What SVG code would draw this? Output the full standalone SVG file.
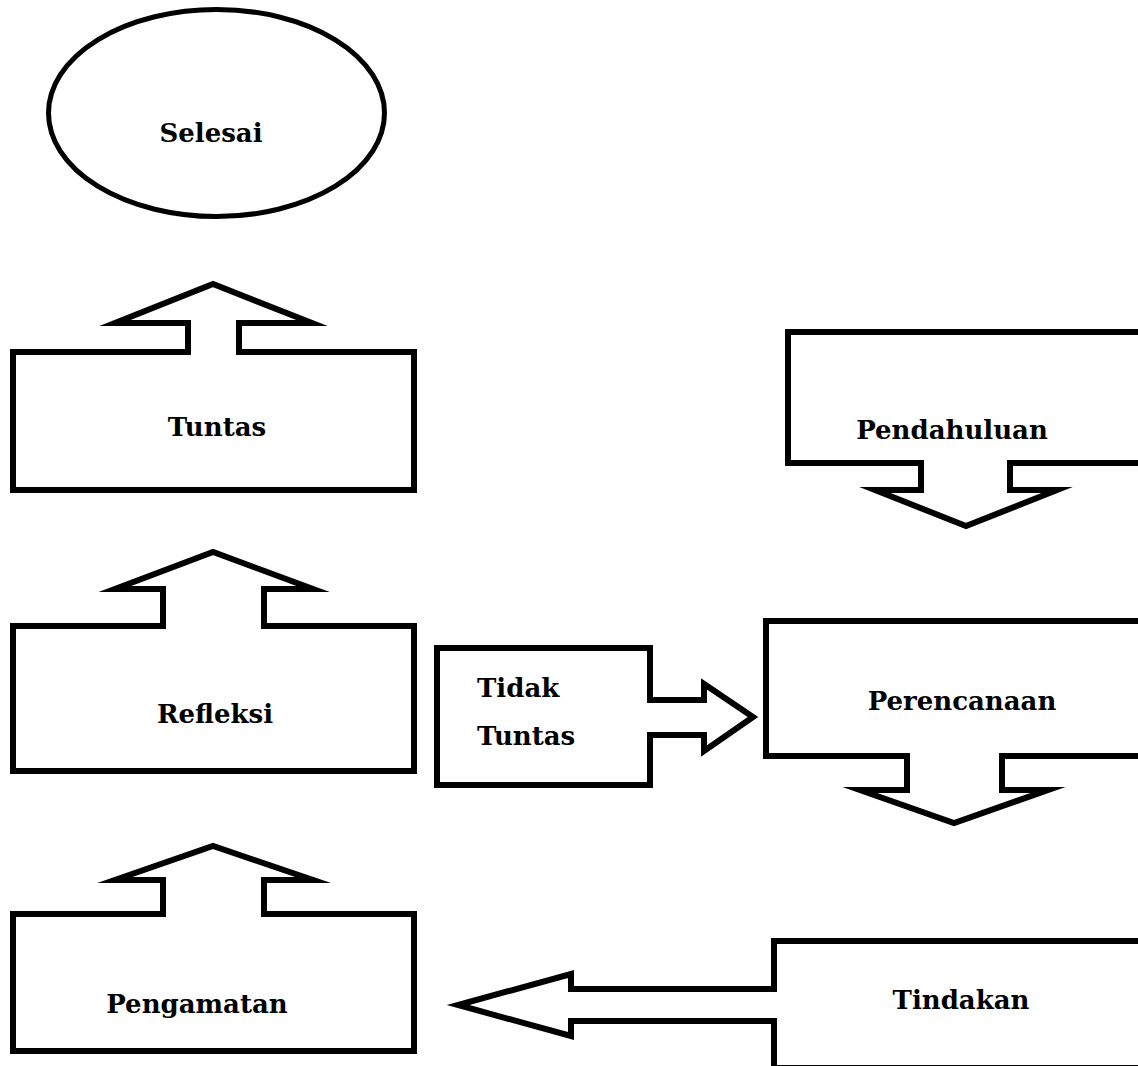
<svg xmlns="http://www.w3.org/2000/svg" width="1138" height="1066" viewBox="0 0 1138 1066">
<style>
.s{fill:#fff;stroke:#000;stroke-width:6;stroke-linejoin:miter;stroke-miterlimit:10}
.e{fill:#fff;stroke:#000;stroke-width:5}
.t{font-family:"DejaVu Serif","Liberation Serif",serif;font-weight:bold;font-size:26px;fill:#000}
.c{text-anchor:middle}
</style>
<rect width="1138" height="1066" fill="#fff"/>
<g id="selesai">
<ellipse class="e" cx="216.5" cy="113" rx="168" ry="103.5"/>
<text class="t c" x="211" y="142">Selesai</text>
</g>
<g id="tuntas">
<path class="s" d="M13,352 H188 V323 H115 L213,284 L312,323 H239 V352 H414 V490 H13 Z"/>
<text class="t c" x="217" y="436">Tuntas</text>
</g>
<g id="refleksi">
<path class="s" d="M13,626 H163 V589 H115 L213,552 L313,589 H264 V626 H414 V771 H13 Z"/>
<text class="t c" x="215" y="723">Refleksi</text>
</g>
<g id="pengamatan">
<path class="s" d="M13,914 H163 V880 H115 L213,846 L313,880 H264 V914 H414 V1051 H13 Z"/>
<text class="t c" x="197" y="1013">Pengamatan</text>
</g>
<g id="pendahuluan">
<path class="s" d="M788,332 H1150 V463 H1010 V490 H1057 L966,526 L875,490 H921 V463 H788 Z"/>
<text class="t c" x="952" y="439">Pendahuluan</text>
</g>
<g id="perencanaan">
<path class="s" d="M766,621 H1150 V756 H1002 V790 H1048 L954,823 L860,790 H907 V756 H766 Z"/>
<text class="t c" x="962" y="710">Perencanaan</text>
</g>
<g id="tidak-tuntas">
<path class="s" d="M437,648 H650 V700 H704 V684 L753,717 L704,751 V735 H650 V785 H437 Z"/>
<text class="t" x="477" y="697">Tidak</text>
<text class="t" x="477" y="745">Tuntas</text>
</g>
<g id="tindakan">
<path class="s" d="M774,941 H1150 V1068 H774 V1021 H571 V1036 L458,1005 L571,974 V989 H774 Z"/>
<text class="t c" x="961" y="1009">Tindakan</text>
</g>
<g id="connectors"></g>
</svg>
